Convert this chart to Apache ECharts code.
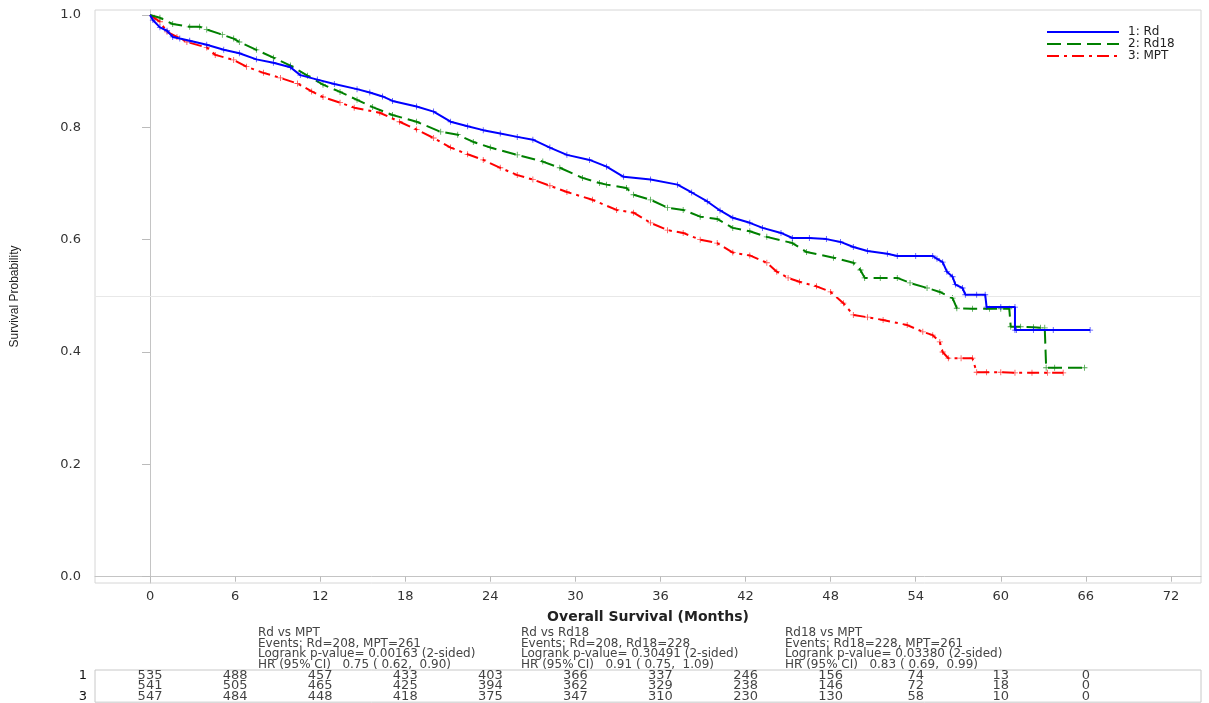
<!DOCTYPE html>
<html>
<head>
<meta charset="utf-8">
<title>Overall Survival</title>
<script src="https://cdn.jsdelivr.net/npm/echarts@6/dist/echarts.min.js"></script>
<style>
  html, body { margin: 0; padding: 0; background: #fff; }
  #chart { width: 1209px; height: 703px; }
</style>
</head>
<body>
<div id="chart"></div>
<script>
// ticks
var xTicks = [0, 6, 12, 18, 24, 30, 36, 42, 48, 54, 60, 66, 72];
var yTicks = [0, 0.2, 0.4, 0.6, 0.8, 1.0];

// Kaplan-Meier curves [month, survival]
var rdCurve = [
  [0, 1.0], [0.2, 0.991], [0.7, 0.978], [1.2, 0.972], [1.6, 0.961], [2.1, 0.958], [2.8, 0.954], [4.0, 0.947],
  [5.2, 0.938], [6.3, 0.932], [7.5, 0.921], [8.7, 0.915], [9.9, 0.907], [10.6, 0.893], [11.8, 0.885],
  [13.0, 0.877], [14.6, 0.868], [15.5, 0.862], [16.4, 0.855], [17.1, 0.847], [18.8, 0.837], [20.0, 0.828],
  [21.2, 0.810], [22.4, 0.802], [23.5, 0.795], [24.7, 0.789], [25.9, 0.783], [27.0, 0.778], [28.2, 0.764],
  [29.4, 0.751], [31.0, 0.742], [32.2, 0.730], [33.4, 0.712], [35.3, 0.707], [37.2, 0.698], [38.2, 0.684],
  [39.3, 0.668], [40.2, 0.652], [41.1, 0.639], [42.3, 0.630], [43.2, 0.621], [44.5, 0.612], [45.3, 0.603],
  [46.5, 0.603], [47.7, 0.601], [48.7, 0.596], [49.6, 0.587], [50.6, 0.580], [52.0, 0.575], [52.7, 0.571],
  [54.0, 0.571], [55.2, 0.571], [55.5, 0.566], [55.9, 0.560], [56.2, 0.543], [56.6, 0.534], [56.8, 0.520],
  [57.3, 0.514], [57.5, 0.502], [58.3, 0.502], [58.9, 0.502], [59.0, 0.480], [60.0, 0.480], [61.0, 0.480],
  [61.0, 0.439], [61.1, 0.439], [62.3, 0.439], [63.7, 0.439], [66.3, 0.439]
];
var rd18Curve = [
  [0, 1.0], [0.7, 0.995], [1.6, 0.984], [2.8, 0.979], [3.5, 0.979], [4.0, 0.974], [5.1, 0.965], [5.9, 0.958],
  [6.3, 0.952], [7.5, 0.938], [8.7, 0.924], [9.9, 0.910], [11.1, 0.892], [12.2, 0.876], [13.4, 0.863],
  [14.6, 0.849], [15.7, 0.836], [17.1, 0.822], [18.8, 0.810], [20.5, 0.792], [21.7, 0.787], [22.8, 0.774],
  [24.0, 0.764], [25.9, 0.751], [27.7, 0.739], [28.9, 0.728], [30.5, 0.710], [31.7, 0.701], [32.2, 0.698],
  [33.6, 0.692], [34.1, 0.680], [35.3, 0.671], [36.5, 0.657], [37.6, 0.653], [38.8, 0.641], [40.0, 0.637],
  [41.1, 0.621], [42.3, 0.615], [43.5, 0.605], [45.3, 0.594], [46.3, 0.578], [48.2, 0.568], [49.6, 0.559],
  [50.1, 0.546], [50.4, 0.532], [51.5, 0.532], [52.7, 0.532], [53.6, 0.523], [54.8, 0.514], [55.7, 0.507],
  [56.6, 0.496], [56.9, 0.478], [58.0, 0.477], [59.2, 0.477], [60.0, 0.477], [60.6, 0.477], [60.7, 0.445],
  [61.4, 0.445], [62.3, 0.444], [62.8, 0.443], [63.1, 0.443], [63.2, 0.372], [63.8, 0.372], [65.9, 0.372]
];
var mptCurve = [
  [0, 1.0], [0.3, 0.995], [0.7, 0.988], [1.2, 0.970], [1.9, 0.961], [2.6, 0.952], [4.0, 0.942], [4.6, 0.929],
  [5.9, 0.920], [6.8, 0.908], [8.0, 0.897], [9.2, 0.888], [10.4, 0.878], [11.4, 0.864], [12.2, 0.854],
  [13.4, 0.844], [14.4, 0.835], [16.2, 0.826], [17.6, 0.810], [18.8, 0.796], [20.0, 0.781], [21.2, 0.764],
  [22.4, 0.752], [23.5, 0.742], [24.7, 0.728], [25.9, 0.715], [27.0, 0.707], [28.2, 0.696], [29.4, 0.685],
  [31.2, 0.671], [32.9, 0.653], [34.1, 0.648], [35.3, 0.630], [36.5, 0.617], [37.6, 0.612], [38.8, 0.600],
  [40.0, 0.594], [41.1, 0.577], [42.3, 0.572], [43.5, 0.559], [44.2, 0.543], [45.0, 0.532], [45.8, 0.525],
  [47.0, 0.517], [48.0, 0.507], [48.9, 0.487], [49.6, 0.466], [50.6, 0.462], [51.7, 0.457], [53.4, 0.448],
  [54.5, 0.436], [55.2, 0.430], [55.7, 0.418], [55.9, 0.400], [56.3, 0.389], [57.2, 0.389], [58.0, 0.389],
  [58.3, 0.364], [59.0, 0.364], [60.0, 0.364], [61.0, 0.363], [62.2, 0.363], [63.3, 0.363], [64.4, 0.363]
];

// numbers at risk
var riskTimes = [0, 6, 12, 18, 24, 30, 36, 42, 48, 54, 60, 66];
var riskRows = ['1', '2', '3'];
var riskRd = [535, 488, 457, 433, 403, 366, 337, 246, 156, 74, 13, 0];
var riskRd18 = [541, 505, 465, 425, 394, 362, 329, 238, 146, 72, 18, 0];
var riskMpt = [547, 484, 448, 418, 375, 347, 310, 230, 130, 58, 10, 0];

var seriesNames = ['1: Rd', '2: Rd18', '3: MPT'];
var colors = ['#0000ff', '#008000', '#ff0000'];
var dashes = ['solid', [14, 6], [12, 5, 3, 5]];

var stats = [
  'Rd vs MPT\nEvents: Rd=208, MPT=261\nLogrank p-value= 0.00163 (2-sided)\nHR (95% CI)   0.75 ( 0.62,  0.90)',
  'Rd vs Rd18\nEvents: Rd=208, Rd18=228\nLogrank p-value= 0.30491 (2-sided)\nHR (95% CI)   0.91 ( 0.75,  1.09)',
  'Rd18 vs MPT\nEvents: Rd18=228, MPT=261\nLogrank p-value= 0.03380 (2-sided)\nHR (95% CI)   0.83 ( 0.69,  0.99)'
];

var font = 'DejaVu Sans';
var plus = 'path://M0,4.3H10V5.7H0Z M4.3,0H5.7V10H4.3Z';

var curves = [rdCurve, rd18Curve, mptCurve];
var risks = [riskRd, riskRd18, riskMpt];

var series = [];
curves.forEach(function (c, i) {
  series.push({
    name: seriesNames[i],
    type: 'line',
    data: c,
    symbol: 'none',
    z: 5 - i,
    lineStyle: { color: colors[i], width: 2, type: dashes[i] },
    itemStyle: { color: colors[i] },
    markLine: i === 0 ? {
      silent: true,
      symbol: ['none', 'none'],
      label: { show: false },
      lineStyle: { color: '#e8e8e8', width: 1, type: 'solid' },
      data: [{ yAxis: 0.5 }]
    } : undefined
  });
  // censor marks
  series.push({
    name: seriesNames[i] + ' censored',
    type: 'scatter',
    data: c.slice(1),
    symbol: plus,
    symbolSize: 6,
    z: 5 - i,
    itemStyle: { color: colors[i], opacity: 0.7 }
  });
});

risks.forEach(function (r, i) {
  series.push({
    type: 'scatter',
    xAxisIndex: 1,
    yAxisIndex: 1,
    symbolSize: 1,
    itemStyle: { color: 'transparent' },
    data: riskTimes.map(function (t, k) { return [t, riskRows[i], r[k]]; }),
    label: {
      show: true,
      position: 'inside',
      formatter: function (p) { return p.value[2]; },
      fontFamily: font,
      fontSize: 13,
      color: '#111'
    }
  });
});

var chart = echarts.init(document.getElementById('chart'));
chart.setOption({
  animation: false,
  backgroundColor: '#fff',
  textStyle: { fontFamily: font },
  legend: {
    data: seriesNames,
    orient: 'vertical',
    left: 1046,
    top: 26,
    padding: 0,
    itemWidth: 72,
    itemHeight: 11,
    itemGap: 0,
    itemStyle: { opacity: 0 },
    textStyle: { fontFamily: font, fontSize: 12, color: '#222', lineHeight: 11, padding: [0, 0, 0, 4] }
  },
  grid: [
    { left: 95, right: 8, top: 10, height: 573, show: true, borderColor: '#d6d6d6', borderWidth: 1 },
    { left: 95, right: 8, top: 670, height: 34, show: true, borderColor: '#c8c8c8', borderWidth: 1 }
  ],
  xAxis: [
    {
      type: 'value',
      min: -3.88,
      max: 74.12,
      name: 'Overall Survival (Months)',
      nameLocation: 'middle',
      nameGap: 27,
      nameTextStyle: { fontFamily: font, fontSize: 14, fontWeight: 'bold', color: '#222' },
      splitLine: { show: false },
      axisLine: { lineStyle: { color: '#c4c4c4' } },
      axisTick: { length: 5, customValues: xTicks, lineStyle: { color: '#bbb' } },
      axisLabel: { customValues: xTicks, margin: 7, fontFamily: font, fontSize: 13, color: '#333' }
    },
    { type: 'value', gridIndex: 1, min: -3.88, max: 74.12, show: false }
  ],
  yAxis: [
    {
      type: 'value',
      min: -0.0112,
      max: 1.0089,
      name: 'Survival Probability',
      nameLocation: 'middle',
      nameGap: 74,
      nameTextStyle: { fontFamily: 'Liberation Sans', fontSize: 12, color: '#222' },
      splitLine: { show: false },
      axisLine: { show: true, lineStyle: { color: '#c4c4c4' } },
      axisTick: { show: true, length: 8, customValues: yTicks, lineStyle: { color: '#bbb' } },
      axisLabel: {
        customValues: yTicks,
        margin: 14,
        fontFamily: font,
        fontSize: 13,
        color: '#333',
        formatter: function (v) { return v.toFixed(1); }
      }
    },
    {
      type: 'category',
      gridIndex: 1,
      data: riskRows,
      inverse: true,
      axisLine: { show: false },
      axisTick: { show: false },
      splitLine: { show: false },
      axisLabel: { margin: 8, fontFamily: font, fontSize: 13, color: '#111' }
    }
  ],
  graphic: stats.map(function (s, i) {
    return {
      type: 'text',
      x: [258, 521, 785][i],
      y: 628,
      style: { text: s, fontFamily: font, fontSize: 12, fill: '#444', lineHeight: 10.5 }
    };
  }),
  series: series
});
</script>
</body>
</html>
